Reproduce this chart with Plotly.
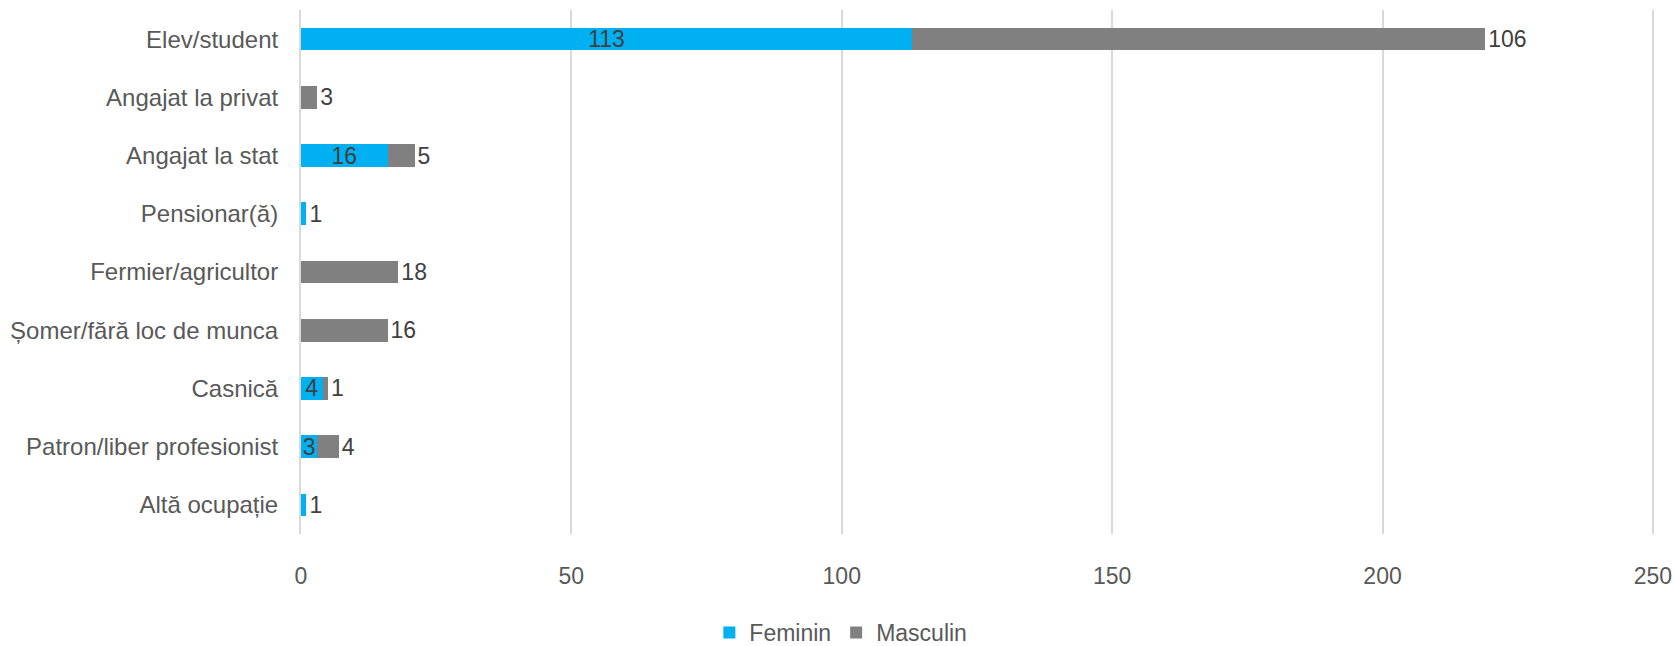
import plotly.graph_objects as go

categories = ["Elev/student", "Angajat la privat", "Angajat la stat", "Pensionar(ă)",
              "Fermier/agricultor", "Șomer/fără loc de munca", "Casnică",
              "Patron/liber profesionist", "Altă ocupație"]
feminin = [113, None, 16, 1, None, None, 4, 3, 1]
masculin = [106, 3, 5, None, 18, 16, 1, 4, None]
x_ticks = [0, 50, 100, 150, 200, 250]

FONT = "Liberation Sans, Arial, sans-serif"
LABEL_COLOR = "#404040"
AXIS_COLOR = "#595959"
GRID = "#d9d9d9"

def txt(vals):
    return ["" if v is None else str(v) for v in vals]

fem_pos = ["outside" if (v is not None and v <= 1) else "inside" for v in feminin]

fig = go.Figure()
fig.add_trace(go.Bar(
    name="Feminin", y=categories, x=feminin, orientation="h",
    marker=dict(color="#00B0F0", line=dict(width=0)),
    text=txt(feminin), textposition=fem_pos, insidetextanchor="middle",
    constraintext="none", cliponaxis=False, textangle=0,
    textfont=dict(family=FONT, size=23, color=LABEL_COLOR),
    hoverinfo="x+y",
))
fig.add_trace(go.Bar(
    name="Masculin", y=categories, x=masculin, orientation="h",
    marker=dict(color="#808080", line=dict(width=0)),
    text=txt(masculin), textposition="outside",
    constraintext="none", cliponaxis=False, textangle=0,
    textfont=dict(family=FONT, size=23, color=LABEL_COLOR),
    hoverinfo="x+y",
))

fig.update_layout(
    width=1675, height=646,
    barmode="stack", bargap=0.61,
    plot_bgcolor="white", paper_bgcolor="white",
    margin=dict(l=301, r=21, t=10, b=112, autoexpand=False),
    font=dict(family=FONT, size=23, color=AXIS_COLOR),
    showlegend=True,
    legend=dict(orientation="h", xref="container", yref="container",
                x=0.502, xanchor="center", y=0.021, yanchor="middle",
                font=dict(family=FONT, size=23, color=AXIS_COLOR),
                traceorder="normal"),
)
fig.update_xaxes(
    range=[0, 250.2], tickvals=x_ticks, showgrid=True, gridcolor=GRID, gridwidth=2,
    zeroline=False, showline=False, ticks="outside", ticklen=21,
    tickcolor="rgba(0,0,0,0)", ticklabeloverflow="allow", automargin=False,
    tickfont=dict(family=FONT, size=23, color=AXIS_COLOR),
)
fig.update_yaxes(
    categoryorder="array", categoryarray=categories, autorange="reversed",
    showline=True, linecolor=GRID, linewidth=2, showgrid=False,
    ticks="outside", ticklen=16, tickcolor="rgba(0,0,0,0)", automargin=False,
    tickfont=dict(family=FONT, size=24, color=AXIS_COLOR),
)

fig.write_html("out.html", config={"displayModeBar": False},
               post_script="document.body.style.margin='0';document.body.style.overflow='hidden';")
